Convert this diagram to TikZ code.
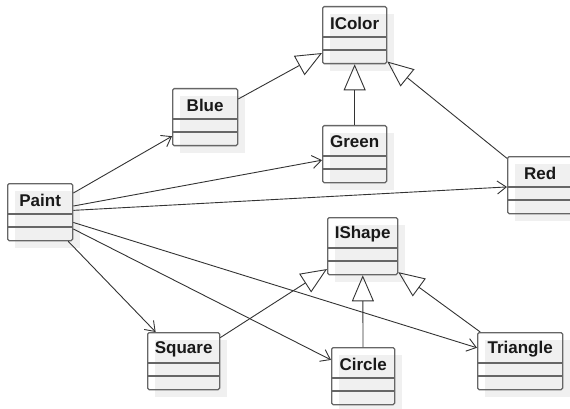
\documentclass[tikz,border=0pt]{standalone}
\usepackage{fontspec}
\setmainfont{Liberation Sans}
\usetikzlibrary{arrows.meta}

\begin{document}
\begin{tikzpicture}[x=1pt,y=-1pt,draw=black!80]
    \tikzstyle{class}=[draw=black!60,line width=1.3pt,rounded corners=1.5pt,minimum height=57pt,inner sep=0pt,anchor=north west]
    \tikzstyle{shadow}=[fill=black!6,minimum height=57pt,inner sep=0pt,anchor=north west]
    \tikzstyle{title}=[font=\bfseries\fontsize{17}{19}\selectfont,text=black!90]
    \tikzstyle{compart}=[draw=black!60,line width=1.3pt]
    \tikzstyle{assoc}=[-{Straight Barb[length=9pt,width=13pt]},line width=0.9pt]
    \tikzstyle{inherit}=[-{Triangle[open,length=26pt,width=22pt]},line width=0.9pt]

    \useasboundingbox (0,0) rectangle (570,409);

    % Draw the shadows first
    \foreach \name / \x / \y / \w in {Paint/7/183/65,Blue/172/88/65,IColor/322/6/64,Green/322/125/64,Red/507/156/65,IShape/327/217/70,Square/147/332/72,Circle/331/347/63,Triangle/477/332/85}
        \node[shadow,minimum width=\w pt] at (\x+8,\y+8) {};

    % Draw the classes with their two empty compartments
    \foreach \name / \x / \y / \w in {Paint/7/183/65,Blue/172/88/65,IColor/322/6/64,Green/322/125/64,Red/507/156/65,IShape/327/217/70,Square/147/332/72,Circle/331/347/63,Triangle/477/332/85}
    {
        \node[class,minimum width=\w pt] (\name) at (\x,\y) {};
        \node[title] at ([yshift=-17pt]\name.north) {\name};
        \draw[compart] ([yshift=-31pt]\name.north west) -- ([yshift=-31pt]\name.north east);
        \draw[compart] ([yshift=-44pt]\name.north west) -- ([yshift=-44pt]\name.north east);
    }

    % Paint uses every colour and every shape
    \foreach \dest in {Blue,Green,Red,Square,Circle,Triangle}
        \draw[assoc] (Paint) -- (\dest);

    % Generalizations
    \foreach \source in {Blue,Green,Red}
        \draw[inherit] (\source) -- (IColor);
    \foreach \source in {Square,Circle,Triangle}
        \draw[inherit] (\source) -- (IShape);
\end{tikzpicture}
\end{document}
